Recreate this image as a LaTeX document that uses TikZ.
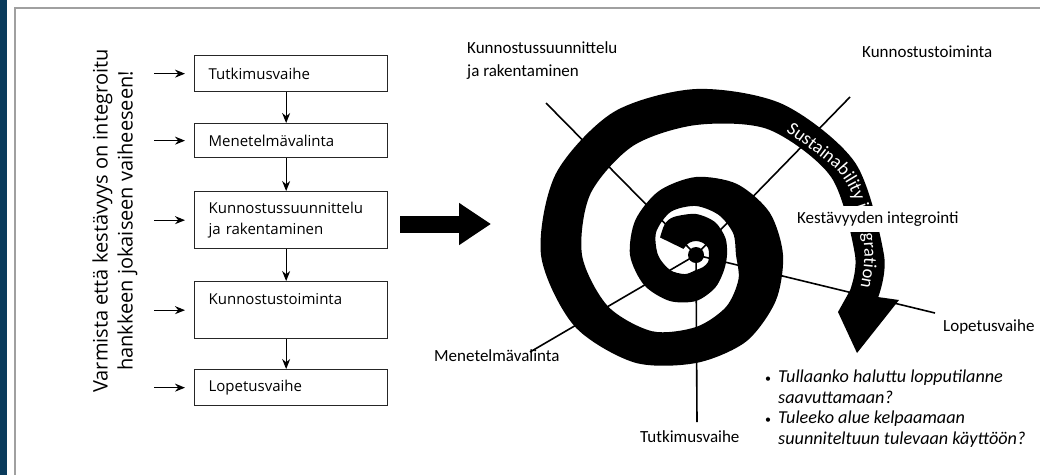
\documentclass[tikz,border=0pt]{standalone}
\usepackage{fontspec}
\setmainfont{Open Sans}
\newfontfamily\spirfont{Carlito}
\usetikzlibrary{arrows.meta,decorations.text}
\definecolor{framenavy}{HTML}{0A3B5C}
\definecolor{framegrey}{HTML}{A0A0A0}
\tikzset{
  phasebox/.style={draw=black!85, line width=1.3pt, minimum width=193pt, text width=165pt,
    inner xsep=14pt, inner ysep=0pt, align=left, anchor=north west, font=\fontsize{15}{21.5}\selectfont},
  feed/.style={line width=1.2pt, -{Stealth[length=10pt,width=8pt]}},
  spoke/.style={line width=1.6pt},
  spirlabel/.style={font=\spirfont\fontsize{17}{23}\selectfont, inner sep=0pt, align=left},
}
\newcommand{\qbullet}{\makebox[13pt][l]{\upshape\fontsize{12}{12}\selectfont\textbullet}}
\begin{document}
\begin{tikzpicture}[x=1pt,y=-1pt]
    \useasboundingbox (0,0) rectangle (1040,475);
    %frame
    \fill[framenavy] (0,0) rectangle (7,475);
    \draw[framegrey, line width=1.5pt] (15,475) -- (15,8) -- (1040,8);

    %phases on the left
    \node[rotate=90, align=center, font=\fontsize{20}{25}\selectfont] (note) at (115,221)
        {Varmista että kestävyys on integroitu\\hankkeen jokaiseen vaiheeseen!};
    \node[phasebox, minimum height=36pt] (b1) at (194,55) {Tutkimusvaihe};
    \node[phasebox, minimum height=34pt] (b2) at (194,123) {Menetelmävalinta};
    \node[phasebox, minimum height=57pt] (b3) at (194,191) {Kunnostussuunnittelu\\ja rakentaminen};
    \node[phasebox, minimum height=57pt] (b4) at (194,281) {Kunnostustoiminta\\\mbox{}};
    \node[phasebox, minimum height=36pt] (b5) at (194,369) {Lopetusvaihe};
    \foreach \i in {1,...,5} {
        \coordinate (f\i) at ([xshift=-40pt]b\i.west);
        \draw[feed, shorten >=9pt] (f\i) -- (b\i);
    }
    \foreach \i/\j in {1/2,2/3,3/4,4/5}
        \draw[feed] ([xshift=-5pt]b\i.south) -- ([xshift=-5pt]b\j.north);

    %big arrow
    \coordinate (bigtail) at (400,224);
    \coordinate (bighead) at (491,224);
    \draw[line width=17pt, -{Triangle[length=32pt,width=40pt]}] (bigtail) -- (bighead);

    %spokes
    \coordinate (hub) at (696,255);
    \coordinate (eKsr) at (546,103);
    \coordinate (eKt) at (850,97);
    \coordinate (eLop) at (935,313);
    \coordinate (eMen) at (530,352);
    \coordinate (eTut) at (697,422);
    \foreach \e in {eKsr,eKt,eLop,eMen,eTut}
        \draw[spoke] (hub) -- (\e);

    %spiral band
    \fill[shift={(696,255)}]
        plot[smooth] coordinates {(-154:40) (-135:44) (-120:44) (-90:41) (-60:38) (-30:34) (0:31)
            (30:32) (60:38) (90:46) (120:53) (150:60) (180:66) (210:70) (240:74) (270:78) (300:82)
            (330:85) (360:87) (390:92) (420:100) (450:108) (480:124) (510:141) (540:155) (570:162)
            (600:165) (630:166) (660:174) (690:184) (720:188) (733:187)}
        -- (203,45) -- (161,98) -- (142,57)
        -- plot[smooth] coordinates {(733:158) (720:159) (690:156) (660:145) (630:130) (600:126)
            (570:122) (540:114) (510:102) (480:88) (450:72) (420:60) (390:49) (360:40) (330:43)
            (300:46) (270:49) (240:50) (210:46) (180:38) (150:30) (120:22) (90:15) (60:14) (30:14)
            (0:13) (-30:14) (-60:14) (-90:14) (-120:14) (-154:14)}
        -- cycle;
    \fill (hub) circle[radius=8pt];
    \path[shift={(696,255)}, decorate, decoration={text along path,
        text={|\spirfont\fontsize{18.5}{20}\selectfont\color{white}|Sustainability integration}}]
        plot[smooth] coordinates {(666:153) (690:165) (705:168) (720:168.5) (735:167.5) (750:165)};

    %labels
    \node[spirlabel, anchor=north west] (lKsr) at (467,41) {Kunnostussuunnittelu\\ja rakentaminen};
    \node[spirlabel, anchor=base west] (lKt) at (862,57.5) {Kunnostustoiminta};
    \node[spirlabel, anchor=base west, fill=white, inner xsep=3pt, inner ysep=6pt] (lKes) at (794,223.5) {Kestävyyden integrointi};
    \node[spirlabel, anchor=base west] (lLop) at (943,331.5) {Lopetusvaihe};
    \node[spirlabel, anchor=base west] (lMen) at (434,361.5) {Menetelmävalinta};
    \node[spirlabel, anchor=base west] (lTut) at (640,442.5) {Tutkimusvaihe};
    \node[spirlabel, font=\spirfont\itshape\fontsize{18.2}{20.5}\selectfont, anchor=base west] (qs) at (765,382.5)
        {\begin{tabular}[t]{@{}l@{}l@{}}
            \qbullet & Tullaanko haluttu lopputilanne\\
                     & saavuttamaan?\\
            \qbullet & Tuleeko alue kelpaamaan\\
                     & suunniteltuun tulevaan käyttöön?
         \end{tabular}};
\end{tikzpicture}
\end{document}
